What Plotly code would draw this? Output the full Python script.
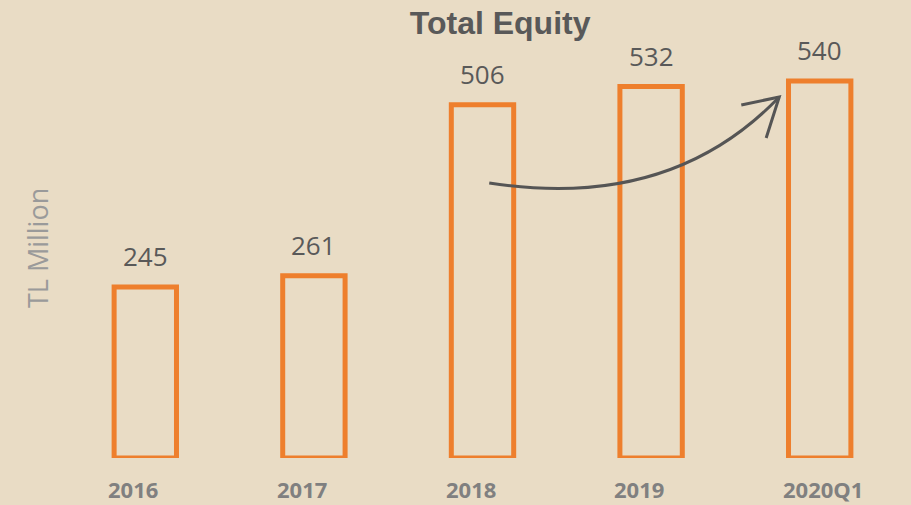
import plotly.graph_objects as go

BG = "#E9DCC5"
ORANGE = "#EE7F2D"
INK = "#595959"
MUTED = "#808080"

CATEGORIES = ["2016", "2017", "2018", "2019", "2020Q1"]
EQUITY = [245, 261, 506, 532, 540]

fig = go.Figure()
fig.add_bar(x=CATEGORIES, y=EQUITY, width=0.37,
            marker=dict(color="rgba(0,0,0,0)", line=dict(color=ORANGE, width=5)),
            hoverinfo="skip", showlegend=False)

# value labels; index positions so "2016" isn't read as a number
for i, val in enumerate(EQUITY):
    fig.add_annotation(x=i, y=val, text=str(val), showarrow=False,
                       yanchor="bottom", yshift=11,
                       font=dict(family="Open Sans", size=26, color=INK))

# category labels sit left-aligned near each bar's left edge, as in the source
for i, cat in enumerate(CATEGORIES):
    fig.add_annotation(x=i, y=0, text=f"<b>{cat}</b>", showarrow=False,
                       xanchor="left", yanchor="middle", xshift=-38, yshift=-31,
                       borderpad=0,
                       font=dict(family="Open Sans", size=22, color=MUTED))

# hand-drawn style growth arrow (decoration, paper coords)
fig.add_shape(type="path", xref="paper", yref="paper",
              path="M 0.508,0.691 Q 0.722,0.62 0.852,0.907",
              line=dict(color="#555555", width=3))
fig.add_shape(type="path", xref="paper", yref="paper",
              path="M 0.807,0.887 L 0.852,0.907 L 0.8365,0.804",
              line=dict(color="#555555", width=3))

fig.add_annotation(text="TL Million", xref="paper", yref="paper",
                   x=-0.027, y=0.528, xanchor="center", yanchor="middle",
                   showarrow=False, textangle=-90,
                   font=dict(family="Open Sans", size=27, color="#9a9a9a"))

fig.update_layout(
    width=911, height=505,
    paper_bgcolor=BG, plot_bgcolor=BG,
    margin=dict(l=61, r=7, t=60, b=47),
    title=dict(text="<b>Total Equity</b>", x=0.549, xanchor="center",
               y=0.955, yanchor="middle",
               font=dict(family="Liberation Sans", size=32, color=INK)),
    xaxis=dict(type="category", range=[-0.5, 4.5], showgrid=False,
               zeroline=False, showline=False, ticks="", showticklabels=False,
               automargin=False),
    yaxis=dict(range=[0, 570], visible=False, showgrid=False, automargin=False),
    hovermode=False,
)

# drop the default 8px body margin so the figure fills the window
fig.write_html("out.html", config=dict(displayModeBar=False),
               post_script="document.body.style.margin='0';"
                           "document.body.style.background='%s';" % BG)
